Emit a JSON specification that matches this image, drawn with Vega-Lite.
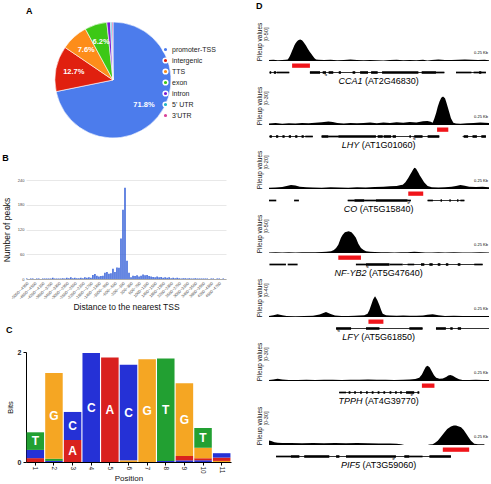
{
"$schema": "https://vega.github.io/schema/vega-lite/v6.json",
"padding": {"left": 2, "top": 2, "right": 0, "bottom": 0},
"background": "white",
"config": {
  "font": "Liberation Sans",
  "view": {"stroke": null},
  "axis": {"titleFontWeight": "normal", "labelColor": "#222", "titleColor": "#111"},
  "title": {"fontSize": 9, "fontWeight": "bold", "anchor": "start", "frame": "bounds", "color": "#000"}
},
"resolve": {"scale": {"color": "independent", "size": "independent"}, "legend": {"color": "independent", "size": "independent"}},
"datasets": {
  "pie": [
    {"c": "promoter-TSS", "v": 71.8, "i": 1, "l": "71.8%"},
    {"c": "intergenic", "v": 12.7, "i": 2, "l": "12.7%"},
    {"c": "TTS", "v": 7.6, "i": 3, "l": "7.6%"},
    {"c": "exon", "v": 6.2, "i": 4, "l": "6.2%"},
    {"c": "intron", "v": 1.0, "i": 5, "l": ""},
    {"c": "5' UTR", "v": 0.4, "i": 6, "l": ""},
    {"c": "3'UTR", "v": 0.3, "i": 7, "l": ""}
  ],
  "hist": [
    {"b": "-5000~-4900", "n": 1}, {"b": "-4900~-4800", "n": 0}, {"b": "-4800~-4700", "n": 1}, {"b": "-4700~-4600", "n": 1},
    {"b": "-4600~-4500", "n": 0}, {"b": "-4500~-4400", "n": 1}, {"b": "-4400~-4300", "n": 1}, {"b": "-4300~-4200", "n": 0},
    {"b": "-4200~-4100", "n": 1}, {"b": "-4100~-4000", "n": 1}, {"b": "-4000~-3900", "n": 1}, {"b": "-3900~-3800", "n": 1},
    {"b": "-3800~-3700", "n": 1}, {"b": "-3700~-3600", "n": 3}, {"b": "-3600~-3500", "n": 1}, {"b": "-3500~-3400", "n": 1},
    {"b": "-3400~-3300", "n": 1}, {"b": "-3300~-3200", "n": 1}, {"b": "-3200~-3100", "n": 2}, {"b": "-3100~-3000", "n": 1},
    {"b": "-3000~-2900", "n": 3}, {"b": "-2900~-2800", "n": 2}, {"b": "-2800~-2700", "n": 4}, {"b": "-2700~-2600", "n": 2},
    {"b": "-2600~-2500", "n": 3}, {"b": "-2500~-2400", "n": 2}, {"b": "-2400~-2300", "n": 2}, {"b": "-2300~-2200", "n": 3},
    {"b": "-2200~-2100", "n": 2}, {"b": "-2100~-2000", "n": 4}, {"b": "-2000~-1900", "n": 3}, {"b": "-1900~-1800", "n": 4},
    {"b": "-1800~-1700", "n": 3}, {"b": "-1700~-1600", "n": 10}, {"b": "-1600~-1500", "n": 12}, {"b": "-1500~-1400", "n": 8},
    {"b": "-1400~-1300", "n": 6}, {"b": "-1300~-1200", "n": 7}, {"b": "-1200~-1100", "n": 8}, {"b": "-1100~-1000", "n": 15},
    {"b": "-1000~-900", "n": 17}, {"b": "-900~-800", "n": 13}, {"b": "-800~-700", "n": 14}, {"b": "-700~-600", "n": 25},
    {"b": "-600~-500", "n": 17}, {"b": "-500~-400", "n": 28}, {"b": "-400~-300", "n": 27}, {"b": "-300~-200", "n": 98},
    {"b": "-200~-100", "n": 168}, {"b": "-100~0", "n": 221}, {"b": "0~100", "n": 44}, {"b": "100~200", "n": 15},
    {"b": "200~300", "n": 4}, {"b": "300~400", "n": 8}, {"b": "400~500", "n": 7}, {"b": "500~600", "n": 9},
    {"b": "600~700", "n": 6}, {"b": "700~800", "n": 8}, {"b": "800~900", "n": 11}, {"b": "900~1000", "n": 9},
    {"b": "1000~1100", "n": 10}, {"b": "1100~1200", "n": 7}, {"b": "1200~1300", "n": 6}, {"b": "1300~1400", "n": 5},
    {"b": "1400~1500", "n": 4}, {"b": "1500~1600", "n": 6}, {"b": "1600~1700", "n": 4}, {"b": "1700~1800", "n": 5},
    {"b": "1800~1900", "n": 3}, {"b": "1900~2000", "n": 4}, {"b": "2000~2100", "n": 3}, {"b": "2100~2200", "n": 4},
    {"b": "2200~2300", "n": 2}, {"b": "2300~2400", "n": 3}, {"b": "2400~2500", "n": 2}, {"b": "2500~2600", "n": 3},
    {"b": "2600~2700", "n": 2}, {"b": "2700~2800", "n": 1}, {"b": "2800~2900", "n": 2}, {"b": "2900~3000", "n": 2},
    {"b": "3000~3100", "n": 1}, {"b": "3100~3200", "n": 2}, {"b": "3200~3300", "n": 1}, {"b": "3300~3400", "n": 1},
    {"b": "3400~3500", "n": 2}, {"b": "3500~3600", "n": 1}, {"b": "3600~3700", "n": 1}, {"b": "3700~3800", "n": 1},
    {"b": "3800~3900", "n": 1}, {"b": "3900~4000", "n": 1}, {"b": "4000~4100", "n": 1}, {"b": "4100~4200", "n": 0},
    {"b": "4200~4300", "n": 1}, {"b": "4300~4400", "n": 1}, {"b": "4400~4500", "n": 0}, {"b": "4500~4600", "n": 1},
    {"b": "4600~4700", "n": 1}, {"b": "4700~4800", "n": 0}, {"b": "4800~4900", "n": 1}, {"b": "4900~5000", "n": 0}
  ],
  "logo": [
    {"p": 1, "n": "A", "b": 0.07}, {"p": 1, "n": "C", "b": 0.15}, {"p": 1, "n": "T", "b": 0.32},
    {"p": 2, "n": "C", "b": 0.02}, {"p": 2, "n": "T", "b": 0.04}, {"p": 2, "n": "G", "b": 1.56},
    {"p": 3, "n": "A", "b": 0.4}, {"p": 3, "n": "C", "b": 0.51},
    {"p": 4, "n": "C", "b": 1.98},
    {"p": 5, "n": "A", "b": 1.9},
    {"p": 6, "n": "G", "b": 0.03}, {"p": 6, "n": "C", "b": 1.74},
    {"p": 7, "n": "G", "b": 1.87},
    {"p": 8, "n": "C", "b": 0.02}, {"p": 8, "n": "T", "b": 1.86},
    {"p": 9, "n": "C", "b": 0.03}, {"p": 9, "n": "A", "b": 0.08}, {"p": 9, "n": "G", "b": 1.32},
    {"p": 10, "n": "C", "b": 0.03}, {"p": 10, "n": "A", "b": 0.04}, {"p": 10, "n": "G", "b": 0.19}, {"p": 10, "n": "T", "b": 0.36},
    {"p": 11, "n": "G", "b": 0.02}, {"p": 11, "n": "A", "b": 0.06}, {"p": 11, "n": "C", "b": 0.08}
  ],
  "cov": [
    {"t":"CCA1","x":0,"v":1.2},{"t":"CCA1","x":2,"v":1.5},{"t":"CCA1","x":4,"v":1.0},{"t":"CCA1","x":6,"v":1.4},{"t":"CCA1","x":7.5,"v":1.6},
    {"t":"CCA1","x":8.5,"v":2},{"t":"CCA1","x":9,"v":4},{"t":"CCA1","x":9.5,"v":6.5},{"t":"CCA1","x":10,"v":9.7},{"t":"CCA1","x":10.5,"v":13},
    {"t":"CCA1","x":11,"v":16.5},{"t":"CCA1","x":11.5,"v":20},{"t":"CCA1","x":12,"v":22.5},{"t":"CCA1","x":12.5,"v":24.5},{"t":"CCA1","x":13,"v":26},
    {"t":"CCA1","x":13.5,"v":27},{"t":"CCA1","x":14.2,"v":27.5},{"t":"CCA1","x":15,"v":26.5},{"t":"CCA1","x":15.5,"v":25},{"t":"CCA1","x":16,"v":23},
    {"t":"CCA1","x":16.8,"v":20},{"t":"CCA1","x":17.5,"v":16.5},{"t":"CCA1","x":18,"v":14},{"t":"CCA1","x":18.5,"v":12},{"t":"CCA1","x":19.1,"v":9.7},
    {"t":"CCA1","x":20,"v":6},{"t":"CCA1","x":20.7,"v":3.5},{"t":"CCA1","x":21.4,"v":2},{"t":"CCA1","x":22.5,"v":1.5},{"t":"CCA1","x":25,"v":1.2},
    {"t":"CCA1","x":28,"v":1.5},{"t":"CCA1","x":31,"v":1},{"t":"CCA1","x":34,"v":1.3},{"t":"CCA1","x":37,"v":1.8},{"t":"CCA1","x":40,"v":1.2},
    {"t":"CCA1","x":43,"v":1},{"t":"CCA1","x":46,"v":1.4},{"t":"CCA1","x":49,"v":1.1},{"t":"CCA1","x":52,"v":0.8},{"t":"CCA1","x":55,"v":1.2},
    {"t":"CCA1","x":58,"v":1.6},{"t":"CCA1","x":61,"v":1},{"t":"CCA1","x":64,"v":1.3},{"t":"CCA1","x":67,"v":0.9},{"t":"CCA1","x":70,"v":1.5},
    {"t":"CCA1","x":72,"v":0.6},{"t":"CCA1","x":74,"v":1.4},{"t":"CCA1","x":77,"v":1.8},{"t":"CCA1","x":80,"v":1.2},{"t":"CCA1","x":83,"v":1.4},
    {"t":"CCA1","x":86,"v":1.7},{"t":"CCA1","x":89,"v":2},{"t":"CCA1","x":92,"v":1.5},{"t":"CCA1","x":95,"v":1.2},{"t":"CCA1","x":98,"v":1.6},{"t":"CCA1","x":100,"v":1},

    {"t":"LHY","x":0,"v":1.2},{"t":"LHY","x":3,"v":1.5},{"t":"LHY","x":6,"v":1},{"t":"LHY","x":9,"v":1.4},{"t":"LHY","x":12,"v":1.2},
    {"t":"LHY","x":15,"v":1.5},{"t":"LHY","x":18,"v":1.3},{"t":"LHY","x":21,"v":1.8},{"t":"LHY","x":24,"v":2.2},{"t":"LHY","x":27,"v":2.6},
    {"t":"LHY","x":29,"v":2.4},{"t":"LHY","x":31,"v":1.6},{"t":"LHY","x":34,"v":1.2},{"t":"LHY","x":37,"v":1.5},{"t":"LHY","x":40,"v":1.3},
    {"t":"LHY","x":43,"v":1.6},{"t":"LHY","x":46,"v":1.9},{"t":"LHY","x":49,"v":1.4},{"t":"LHY","x":52,"v":2},{"t":"LHY","x":55,"v":1.6},
    {"t":"LHY","x":58,"v":2.2},{"t":"LHY","x":61,"v":1.8},{"t":"LHY","x":64,"v":2.4},{"t":"LHY","x":67,"v":2},{"t":"LHY","x":70,"v":2.8},
    {"t":"LHY","x":72,"v":3},{"t":"LHY","x":73.5,"v":2.5},{"t":"LHY","x":74.4,"v":1.7},{"t":"LHY","x":75.2,"v":5.2},{"t":"LHY","x":76,"v":9.5},
    {"t":"LHY","x":76.7,"v":14},{"t":"LHY","x":77.5,"v":18},{"t":"LHY","x":78.3,"v":21},{"t":"LHY","x":79.1,"v":22},{"t":"LHY","x":80,"v":20.5},
    {"t":"LHY","x":80.6,"v":17.5},{"t":"LHY","x":81.2,"v":14},{"t":"LHY","x":82,"v":9.5},{"t":"LHY","x":82.7,"v":5.2},{"t":"LHY","x":83.8,"v":1.7},
    {"t":"LHY","x":85,"v":1.2},{"t":"LHY","x":87,"v":1},{"t":"LHY","x":90,"v":1.3},{"t":"LHY","x":93,"v":1.6},{"t":"LHY","x":96,"v":2},
    {"t":"LHY","x":98,"v":1.8},{"t":"LHY","x":100,"v":1.5},

    {"t":"CO","x":0,"v":0.6},{"t":"CO","x":3,"v":0.8},{"t":"CO","x":6,"v":1},{"t":"CO","x":8,"v":1.6},{"t":"CO","x":10,"v":2},
    {"t":"CO","x":12,"v":1.8},{"t":"CO","x":14,"v":1.2},{"t":"CO","x":17,"v":0.9},{"t":"CO","x":20,"v":0.8},{"t":"CO","x":24,"v":0.7},
    {"t":"CO","x":28,"v":0.9},{"t":"CO","x":32,"v":0.8},{"t":"CO","x":36,"v":0.7},{"t":"CO","x":40,"v":0.9},{"t":"CO","x":44,"v":0.8},
    {"t":"CO","x":48,"v":1},{"t":"CO","x":52,"v":1.2},{"t":"CO","x":55,"v":1.4},{"t":"CO","x":58,"v":1.6},{"t":"CO","x":60,"v":2},
    {"t":"CO","x":60.8,"v":2.2},{"t":"CO","x":62,"v":3.5},{"t":"CO","x":63.3,"v":5.6},{"t":"CO","x":64,"v":7},{"t":"CO","x":64.8,"v":8.6},
    {"t":"CO","x":65.5,"v":10},{"t":"CO","x":66.1,"v":10.9},{"t":"CO","x":66.8,"v":10.5},{"t":"CO","x":67.8,"v":8.6},{"t":"CO","x":68.5,"v":7},
    {"t":"CO","x":69.3,"v":5.6},{"t":"CO","x":70.5,"v":3.5},{"t":"CO","x":72.1,"v":1.5},{"t":"CO","x":74,"v":0.9},{"t":"CO","x":77,"v":0.8},
    {"t":"CO","x":80,"v":0.9},{"t":"CO","x":83,"v":1.2},{"t":"CO","x":85,"v":1.6},{"t":"CO","x":87,"v":2},{"t":"CO","x":89,"v":1.7},
    {"t":"CO","x":91,"v":1.2},{"t":"CO","x":94,"v":1},{"t":"CO","x":97,"v":1.2},{"t":"CO","x":100,"v":0.9},

    {"t":"NF-YB2","x":0,"v":0.8},{"t":"NF-YB2","x":3,"v":0.9},{"t":"NF-YB2","x":6,"v":0.7},{"t":"NF-YB2","x":9,"v":0.9},{"t":"NF-YB2","x":12,"v":0.8},
    {"t":"NF-YB2","x":15,"v":1},{"t":"NF-YB2","x":18,"v":0.9},{"t":"NF-YB2","x":21,"v":1.1},{"t":"NF-YB2","x":24,"v":1.3},{"t":"NF-YB2","x":26,"v":1.5},
    {"t":"NF-YB2","x":28.2,"v":2.2},{"t":"NF-YB2","x":29.5,"v":4},{"t":"NF-YB2","x":30.5,"v":6.5},{"t":"NF-YB2","x":31.5,"v":10.5},{"t":"NF-YB2","x":32.7,"v":19.6},
    {"t":"NF-YB2","x":33.5,"v":23.5},{"t":"NF-YB2","x":34.5,"v":26.5},{"t":"NF-YB2","x":36.2,"v":28},{"t":"NF-YB2","x":37.5,"v":26.5},{"t":"NF-YB2","x":38.5,"v":23.5},
    {"t":"NF-YB2","x":39.5,"v":19.6},{"t":"NF-YB2","x":40.6,"v":12},{"t":"NF-YB2","x":41.8,"v":6.5},{"t":"NF-YB2","x":43,"v":3.8},{"t":"NF-YB2","x":44.1,"v":2.2},
    {"t":"NF-YB2","x":46,"v":1.5},{"t":"NF-YB2","x":48,"v":1.2},{"t":"NF-YB2","x":51,"v":0.9},{"t":"NF-YB2","x":54,"v":1},{"t":"NF-YB2","x":57,"v":0.8},
    {"t":"NF-YB2","x":60,"v":0.9},{"t":"NF-YB2","x":63,"v":1.1},{"t":"NF-YB2","x":66,"v":1.5},{"t":"NF-YB2","x":68,"v":1.2},{"t":"NF-YB2","x":71,"v":0.8},
    {"t":"NF-YB2","x":74,"v":0.7},{"t":"NF-YB2","x":77,"v":0.9},{"t":"NF-YB2","x":80,"v":0.8},{"t":"NF-YB2","x":84,"v":0.9},{"t":"NF-YB2","x":88,"v":0.7},
    {"t":"NF-YB2","x":92,"v":0.8},{"t":"NF-YB2","x":96,"v":0.9},{"t":"NF-YB2","x":100,"v":0.7},

    {"t":"LFY","x":0,"v":1},{"t":"LFY","x":2,"v":1.8},{"t":"LFY","x":3.9,"v":2.8},{"t":"LFY","x":6,"v":1.8},{"t":"LFY","x":8,"v":1},
    {"t":"LFY","x":12,"v":0.8},{"t":"LFY","x":16,"v":1},{"t":"LFY","x":20,"v":1.2},{"t":"LFY","x":23,"v":2.5},{"t":"LFY","x":25.9,"v":5.2},
    {"t":"LFY","x":28,"v":3},{"t":"LFY","x":30,"v":1.5},{"t":"LFY","x":33,"v":1},{"t":"LFY","x":36,"v":1.1},{"t":"LFY","x":39,"v":1.3},
    {"t":"LFY","x":41,"v":1.5},{"t":"LFY","x":43.3,"v":1.7},{"t":"LFY","x":44.8,"v":3.4},{"t":"LFY","x":45.6,"v":7},{"t":"LFY","x":46.4,"v":12},
    {"t":"LFY","x":47.3,"v":18},{"t":"LFY","x":48.2,"v":21.4},{"t":"LFY","x":49.2,"v":17.5},{"t":"LFY","x":50.2,"v":12},{"t":"LFY","x":51,"v":7},
    {"t":"LFY","x":51.7,"v":3.4},{"t":"LFY","x":53.2,"v":1.7},{"t":"LFY","x":55,"v":1.5},{"t":"LFY","x":58,"v":1.2},{"t":"LFY","x":61,"v":1.6},
    {"t":"LFY","x":64,"v":1.3},{"t":"LFY","x":67,"v":1.2},{"t":"LFY","x":70,"v":1.5},{"t":"LFY","x":72,"v":2.2},{"t":"LFY","x":74.4,"v":2.8},
    {"t":"LFY","x":77,"v":1.8},{"t":"LFY","x":80,"v":1},{"t":"LFY","x":84,"v":1.2},{"t":"LFY","x":88,"v":0.9},{"t":"LFY","x":92,"v":1},
    {"t":"LFY","x":96,"v":1.1},{"t":"LFY","x":100,"v":0.9},

    {"t":"TPPH","x":0,"v":0.8},{"t":"TPPH","x":2,"v":1.2},{"t":"TPPH","x":3.9,"v":1.8},{"t":"TPPH","x":6,"v":1.2},{"t":"TPPH","x":9,"v":0.8},
    {"t":"TPPH","x":13,"v":0.7},{"t":"TPPH","x":17,"v":0.9},{"t":"TPPH","x":21,"v":0.8},{"t":"TPPH","x":25,"v":1},{"t":"TPPH","x":29,"v":0.9},
    {"t":"TPPH","x":33,"v":0.8},{"t":"TPPH","x":37,"v":1},{"t":"TPPH","x":41,"v":0.9},{"t":"TPPH","x":45,"v":1.1},{"t":"TPPH","x":49,"v":0.9},
    {"t":"TPPH","x":53,"v":1},{"t":"TPPH","x":57,"v":0.8},{"t":"TPPH","x":61,"v":1},{"t":"TPPH","x":64,"v":1.2},{"t":"TPPH","x":66.5,"v":1.6},
    {"t":"TPPH","x":68.3,"v":2.5},{"t":"TPPH","x":69.5,"v":5},{"t":"TPPH","x":70.5,"v":8.5},{"t":"TPPH","x":71.3,"v":11},{"t":"TPPH","x":72.1,"v":11.8},
    {"t":"TPPH","x":73,"v":10.5},{"t":"TPPH","x":74,"v":7.5},{"t":"TPPH","x":75,"v":4.5},{"t":"TPPH","x":76,"v":2.5},{"t":"TPPH","x":77.5,"v":1.8},
    {"t":"TPPH","x":79,"v":2},{"t":"TPPH","x":80.5,"v":3},{"t":"TPPH","x":81.5,"v":4.2},{"t":"TPPH","x":82.4,"v":4.6},{"t":"TPPH","x":83.5,"v":4},
    {"t":"TPPH","x":85,"v":2.5},{"t":"TPPH","x":86.4,"v":1.3},{"t":"TPPH","x":88,"v":0.8},{"t":"TPPH","x":91,"v":0.7},{"t":"TPPH","x":94,"v":0.9},
    {"t":"TPPH","x":97,"v":0.8},{"t":"TPPH","x":100,"v":0.8},

    {"t":"PIF5","x":0,"v":3.4},{"t":"PIF5","x":1,"v":3},{"t":"PIF5","x":2.5,"v":2.2},{"t":"PIF5","x":4,"v":1.8},{"t":"PIF5","x":6,"v":1.6},
    {"t":"PIF5","x":10,"v":1.5},{"t":"PIF5","x":15,"v":1.4},{"t":"PIF5","x":20,"v":1.6},{"t":"PIF5","x":25,"v":1.4},{"t":"PIF5","x":30,"v":1.5},
    {"t":"PIF5","x":35,"v":1.3},{"t":"PIF5","x":40,"v":1.5},{"t":"PIF5","x":45,"v":1.4},{"t":"PIF5","x":50,"v":1.2},{"t":"PIF5","x":55,"v":1.1},
    {"t":"PIF5","x":58,"v":0.9},{"t":"PIF5","x":60,"v":0.6},{"t":"PIF5","x":61.5,"v":0},{"t":"PIF5","x":72.1,"v":0},{"t":"PIF5","x":73,"v":0.3},
    {"t":"PIF5","x":74.4,"v":0.6},{"t":"PIF5","x":75.5,"v":1.8},{"t":"PIF5","x":76.7,"v":3.2},{"t":"PIF5","x":78,"v":6},{"t":"PIF5","x":79.7,"v":9.7},
    {"t":"PIF5","x":81,"v":12.3},{"t":"PIF5","x":82.7,"v":14.2},{"t":"PIF5","x":84,"v":15},{"t":"PIF5","x":85,"v":15},{"t":"PIF5","x":86,"v":14.5},
    {"t":"PIF5","x":87.3,"v":13.7},{"t":"PIF5","x":88.5,"v":11.5},{"t":"PIF5","x":89.5,"v":9},{"t":"PIF5","x":90.7,"v":6},{"t":"PIF5","x":91.8,"v":3.2},
    {"t":"PIF5","x":93.3,"v":1},{"t":"PIF5","x":95,"v":0.6},{"t":"PIF5","x":97.9,"v":0.5}
  ],
  "feat": [
    {"t":"CCA1","k":"intron","s":0.2,"e":9.2},{"t":"CCA1","k":"intron","s":18.6,"e":79.7},{"t":"CCA1","k":"intron","s":85,"e":98.6},
    {"t":"CCA1","k":"utr","s":3.5,"e":9.2},{"t":"CCA1","k":"exon","s":0.3,"e":1.0},{"t":"CCA1","k":"exon","s":2.2,"e":3.2},
    {"t":"CCA1","k":"exon","s":18.6,"e":23.2},{"t":"CCA1","k":"exon","s":24.4,"e":25.9},{"t":"CCA1","k":"exon","s":27.1,"e":29.2},
    {"t":"CCA1","k":"exon","s":31.7,"e":32.7},{"t":"CCA1","k":"exon","s":38,"e":39.2},{"t":"CCA1","k":"exon","s":41.4,"e":45},
    {"t":"CCA1","k":"exon","s":46.4,"e":49.4},{"t":"CCA1","k":"exon","s":51.4,"e":67.9},{"t":"CCA1","k":"exon","s":69.4,"e":75.9},
    {"t":"CCA1","k":"utr","s":75.9,"e":79.7},{"t":"CCA1","k":"utr","s":85,"e":92},{"t":"CCA1","k":"utr","s":93,"e":98.6},
    {"t":"CCA1","k":"exon","s":95.5,"e":96.5},{"t":"CCA1","k":"peak","s":10.5,"e":18.6},

    {"t":"LHY","k":"intron","s":0.1,"e":19.9},{"t":"LHY","k":"intron","s":23.9,"e":77.4},{"t":"LHY","k":"intron","s":88,"e":98.6},
    {"t":"LHY","k":"exon","s":0.3,"e":1.3},{"t":"LHY","k":"exon","s":3.2,"e":4.2},{"t":"LHY","k":"exon","s":6.1,"e":7.1},
    {"t":"LHY","k":"exon","s":9,"e":10},{"t":"LHY","k":"exon","s":11.9,"e":12.9},{"t":"LHY","k":"exon","s":14.8,"e":15.8},
    {"t":"LHY","k":"utr","s":16.5,"e":19.9},{"t":"LHY","k":"exon","s":23.9,"e":27},{"t":"LHY","k":"utr","s":27,"e":31.5},
    {"t":"LHY","k":"exon","s":31.5,"e":48.6},{"t":"LHY","k":"exon","s":49.4,"e":51.7},{"t":"LHY","k":"exon","s":52.1,"e":55.5},
    {"t":"LHY","k":"exon","s":56.2,"e":57.7},{"t":"LHY","k":"exon","s":63.8,"e":64.5},{"t":"LHY","k":"exon","s":66,"e":69.8},
    {"t":"LHY","k":"exon","s":72.1,"e":77.4},{"t":"LHY","k":"exon","s":88.5,"e":90.5},{"t":"LHY","k":"exon","s":92.5,"e":94.5},
    {"t":"LHY","k":"exon","s":96.5,"e":98.6},{"t":"LHY","k":"peak","s":76.4,"e":81.5},

    {"t":"CO","k":"utr","s":0,"e":3.3},{"t":"CO","k":"utr","s":11.4,"e":13.6},{"t":"CO","k":"intron","s":35.8,"e":64.5},
    {"t":"CO","k":"utr","s":35.8,"e":38.8},{"t":"CO","k":"exon","s":38.8,"e":43.3},{"t":"CO","k":"utr","s":43.3,"e":48.6},
    {"t":"CO","k":"exon","s":48.6,"e":63},{"t":"CO","k":"utr","s":63,"e":64.5},{"t":"CO","k":"intron","s":72.1,"e":88.8},
    {"t":"CO","k":"utr","s":72.1,"e":74.5},{"t":"CO","k":"exon","s":78,"e":78.6},{"t":"CO","k":"exon","s":82,"e":82.6},
    {"t":"CO","k":"exon","s":85.5,"e":86.1},{"t":"CO","k":"utr","s":87,"e":88.8},{"t":"CO","k":"peak","s":63.3,"e":70.1},

    {"t":"NF-YB2","k":"utr","s":0.2,"e":7.7},{"t":"NF-YB2","k":"utr","s":8.5,"e":13},{"t":"NF-YB2","k":"intron","s":60.8,"e":97.1},
    {"t":"NF-YB2","k":"utr","s":39.5,"e":44.1},{"t":"NF-YB2","k":"exon","s":44.1,"e":54.7},{"t":"NF-YB2","k":"utr","s":54.7,"e":60.8},
    {"t":"NF-YB2","k":"utr","s":63,"e":66},{"t":"NF-YB2","k":"exon","s":69.1,"e":70.6},{"t":"NF-YB2","k":"exon","s":72.9,"e":74.4},
    {"t":"NF-YB2","k":"exon","s":76.7,"e":77.9},{"t":"NF-YB2","k":"exon","s":80.4,"e":81.5},{"t":"NF-YB2","k":"exon","s":85.8,"e":87},
    {"t":"NF-YB2","k":"utr","s":93.3,"e":97.1},{"t":"NF-YB2","k":"peak","s":31.5,"e":41.8},

    {"t":"LFY","k":"intron","s":30.5,"e":69.8},{"t":"LFY","k":"exon","s":30.5,"e":37.3},{"t":"LFY","k":"exon","s":44.1,"e":50.2},
    {"t":"LFY","k":"exon","s":63.8,"e":69.8},{"t":"LFY","k":"intron","s":75.9,"e":100},{"t":"LFY","k":"exon","s":75.9,"e":80.4},
    {"t":"LFY","k":"exon","s":82.4,"e":83.5},{"t":"LFY","k":"exon","s":85.8,"e":87.3},{"t":"LFY","k":"peak","s":45.2,"e":52},

    {"t":"TPPH","k":"intron","s":31.9,"e":68.3},{"t":"TPPH","k":"utr","s":31.9,"e":35},{"t":"TPPH","k":"exon","s":36.2,"e":37},
    {"t":"TPPH","k":"exon","s":38.7,"e":39.5},{"t":"TPPH","k":"exon","s":41.4,"e":42.2},{"t":"TPPH","k":"exon","s":44.1,"e":44.9},
    {"t":"TPPH","k":"exon","s":46.7,"e":47.5},{"t":"TPPH","k":"exon","s":49.4,"e":50.2},{"t":"TPPH","k":"exon","s":52,"e":52.8},
    {"t":"TPPH","k":"exon","s":54.8,"e":55.6},{"t":"TPPH","k":"exon","s":57.3,"e":58.1},{"t":"TPPH","k":"exon","s":59.6,"e":60.4},
    {"t":"TPPH","k":"exon","s":62.3,"e":66},{"t":"TPPH","k":"exon","s":67.5,"e":68.3},{"t":"TPPH","k":"peak","s":69.5,"e":75.2},

    {"t":"PIF5","k":"intron","s":3.2,"e":82.7},{"t":"PIF5","k":"utr","s":3.2,"e":10},{"t":"PIF5","k":"exon","s":10,"e":13.8},
    {"t":"PIF5","k":"exon","s":16,"e":27.4},{"t":"PIF5","k":"exon","s":30.5,"e":32},{"t":"PIF5","k":"exon","s":35,"e":57.7},
    {"t":"PIF5","k":"exon","s":61.5,"e":63.8},{"t":"PIF5","k":"utr","s":63.8,"e":69.8},{"t":"PIF5","k":"exon","s":72.9,"e":82.7},
    {"t":"PIF5","k":"peak","s":79,"e":91}
  ],
  "tss": [
    {"t":"CCA1","p":25.2,"d":"+"},{"t":"LHY","p":65.5,"d":"+"},{"t":"CO","p":64,"d":"-"},{"t":"NF-YB2","p":44.1,"d":"+"},
    {"t":"LFY","p":31,"d":"+"},{"t":"TPPH","p":65.5,"d":"-"},{"t":"PIF5","p":57.2,"d":"-"}
  ],
  "genes": [
    {"t":"CCA1","g":"CCA1","id":"(AT2G46830)"},{"t":"LHY","g":"LHY","id":"(AT1G01060)"},{"t":"CO","g":"CO","id":"(AT5G15840)"},
    {"t":"NF-YB2","g":"NF-YB2","id":"(AT5G47640)"},{"t":"LFY","g":"LFY","id":"(AT5G61850)"},{"t":"TPPH","g":"TPPH","id":"(AT4G39770)"},
    {"t":"PIF5","g":"PIF5","id":"(AT3G59060)"}
  ]
},
"hconcat": [
  {
    "resolve": {"scale": {"color": "independent"}, "legend": {"color": "independent"}},
    "concat": [
      {
        "title": {"text": "A", "offset": 5},
        "width": 174, "height": 116,
        "data": {"name": "pie"},
        "encoding": {
          "theta": {"field": "v", "type": "quantitative", "stack": true},
          "order": {"field": "i", "type": "quantitative"},
          "color": {"field": "c", "type": "nominal",
            "scale": {"domain": ["promoter-TSS", "intergenic", "TTS", "exon", "intron", "5' UTR", "3'UTR"],
                      "range": ["#4c7cec", "#e0200f", "#fd8d1a", "#3cc816", "#7a1fd6", "#22b4c8", "#d9439a"]},
            "legend": {"title": null, "orient": "none", "legendX": 136, "legendY": 24, "padding": 0, "labelFontSize": 7, "symbolType": "circle", "symbolSize": 22, "rowPadding": 0, "labelOffset": 3, "labelColor": "#222"}}
        },
        "layer": [
          {"mark": {"type": "arc", "outerRadius": 58, "stroke": "white", "strokeWidth": 0.6}},
          {"mark": {"type": "text", "radius": 40, "fill": "white", "fontWeight": "bold", "fontSize": 7.5}, "encoding": {"text": {"field": "l"}}}
        ]
      },
      {
        "title": {"text": "B", "offset": 15},
        "width": 200, "height": 99,
        "data": {"name": "hist"},
        "mark": {"type": "bar", "color": "#3560d8"},
        "encoding": {
          "x": {"field": "b", "type": "nominal", "sort": null, "scale": {"paddingInner": 0.25, "paddingOuter": 0},
            "axis": {"values": ["-5000~-4900","-4600~-4500","-4200~-4100","-3800~-3700","-3400~-3300","-3000~-2900","-2600~-2500","-2200~-2100","-1800~-1700","-1400~-1300","-1000~-900","-600~-500","-200~-100","200~300","600~700","1000~1100","1400~1500","1800~1900","2200~2300","2600~2700","3000~3100","3400~3500","3800~3900","4200~4300","4600~4700"],
              "labelAngle": -45, "labelFontSize": 4, "labelColor": "#444", "ticks": false, "domainColor": "#aaa", "labelPadding": 2,
              "title": "Distance to the nearest TSS", "titleFontSize": 8.5, "titlePadding": 3}},
          "y": {"field": "n", "type": "quantitative", "scale": {"domain": [0, 240]},
            "axis": {"values": [0, 60, 120, 180, 240], "labelFontSize": 4, "labelColor": "#444", "domain": false, "ticks": false, "gridColor": "#e8e8e8",
              "title": "Number of peaks", "titleFontSize": 8.5, "titlePadding": 6}}
        }
      },
      {
        "title": {"text": "C", "offset": 13},
        "width": 205, "height": 110,
        "data": {"name": "logo"},
        "transform": [
          {"stack": "b", "groupby": ["p"], "sort": [{"field": "b", "order": "ascending"}], "as": ["b0", "b1"]},
          {"calculate": "(datum.b0 + datum.b1) / 2", "as": "bm"}
        ],
        "encoding": {
          "x": {"field": "p", "type": "ordinal", "scale": {"paddingInner": 0.06, "paddingOuter": 0.03},
            "axis": {"title": "Position", "labelAngle": 90, "labelFontSize": 6.5, "titleFontSize": 8, "domainColor": "#000", "tickColor": "#000", "tickSize": 3, "labelAlign": "left", "labelBaseline": "middle", "labelPadding": 1, "titlePadding": 1}}
        },
        "layer": [
          {"mark": {"type": "bar"},
           "encoding": {
             "y": {"field": "b0", "type": "quantitative", "scale": {"domain": [0, 2]},
               "axis": {"title": "Bits", "values": [0, 1, 2], "format": "d", "labelFontSize": 7, "labelFontWeight": "bold", "titleFontSize": 7.5, "domainColor": "#000", "tickColor": "#000", "tickSize": 3, "grid": false, "titlePadding": 3}},
             "y2": {"field": "b1"},
             "color": {"field": "n", "type": "nominal", "scale": {"domain": ["A", "C", "G", "T"], "range": ["#d9211e", "#2531d6", "#f5a623", "#22a032"]}, "legend": null}
           }},
          {"transform": [{"filter": "datum.b >= 0.3"}],
           "mark": {"type": "text", "color": "white", "fontWeight": "bold", "fontSize": 12},
           "encoding": {"y": {"field": "bm", "type": "quantitative"}, "text": {"field": "n"}}}
        ]
      }
    ],
    "columns": 1,
    "align": "none",
    "spacing": 14
  },
  {
    "title": {"text": "D", "offset": 11},
    "spacing": 0,
    "vconcat": [
      {"spacing": 0, "vconcat": [
        {"width": 220, "height": 39, "layer": [
          {"data": {"name": "cov"}, "transform": [{"filter": "datum.t === 'CCA1'"}], "mark": {"type": "area", "color": "#000"},
           "encoding": {"x": {"field": "x", "type": "quantitative", "scale": {"domain": [0, 100]}, "axis": null},
             "y": {"field": "v", "type": "quantitative", "scale": {"domain": [0, 50]},
               "axis": {"values": [50], "labelExpr": "'[0-' + datum.label + ']'", "labelAngle": -90, "labelAlign": "right", "labelBaseline": "bottom", "labelOffset": 5, "labelFontSize": 5.5, "labelPadding": 1, "ticks": false, "domain": false, "grid": false, "title": "Pileup values", "titleFontSize": 6.5, "titlePadding": 1}}}},
          {"data": {"values": [{"s": "0.25 Kb"}]}, "mark": {"type": "text", "fontSize": 4, "align": "right", "baseline": "bottom"},
           "encoding": {"x": {"datum": 99.5}, "y": {"datum": 8}, "text": {"field": "s"}}}
        ]},
        {"width": 220, "height": 23, "layer": [
          {"data": {"name": "feat"}, "transform": [{"filter": "datum.t === 'CCA1' && datum.k !== 'peak'"}], "mark": {"type": "rule", "color": "#000"},
           "encoding": {"x": {"field": "s", "type": "quantitative", "scale": {"domain": [0, 100]}, "axis": null}, "x2": {"field": "e"},
             "y": {"datum": "gene", "type": "nominal", "scale": {"type": "point", "domain": ["peak", "gene", "label"], "padding": 0.68}, "axis": null},
             "size": {"field": "k", "type": "ordinal", "scale": {"domain": ["intron", "utr", "exon"], "range": [0.8, 2.6, 4.8]}, "legend": null}}},
          {"data": {"name": "feat"}, "transform": [{"filter": "datum.t === 'CCA1' && datum.k === 'peak'"}], "mark": {"type": "rule", "color": "#f0141a", "strokeWidth": 4.3},
           "encoding": {"x": {"field": "s", "type": "quantitative"}, "x2": {"field": "e"}, "y": {"datum": "peak", "type": "nominal"}}},
          {"data": {"name": "tss"}, "transform": [{"filter": "datum.t === 'CCA1'"}], "mark": {"type": "text", "text": "↳", "font": "DejaVu Sans", "fontSize": 5, "align": "left", "baseline": "top", "dx": -0.8, "dy": -1},
           "encoding": {"x": {"field": "p", "type": "quantitative"}, "y": {"datum": "gene", "type": "nominal"}}},
          {"data": {"name": "genes"}, "transform": [{"filter": "datum.t === 'CCA1'"}], "mark": {"type": "text", "fontSize": 9, "fontStyle": "italic", "align": "right", "baseline": "middle", "dx": -16.5, "dy": 1.5},
           "encoding": {"x": {"datum": 50}, "y": {"datum": "label", "type": "nominal"}, "text": {"field": "g"}}},
          {"data": {"name": "genes"}, "transform": [{"filter": "datum.t === 'CCA1'"}], "mark": {"type": "text", "fontSize": 9, "align": "left", "baseline": "middle", "dx": -14, "dy": 1.5},
           "encoding": {"x": {"datum": 50}, "y": {"datum": "label", "type": "nominal"}, "text": {"field": "id"}}}
        ]}
      ]},
      {"spacing": 0, "vconcat": [
        {"width": 220, "height": 39, "layer": [
          {"data": {"name": "cov"}, "transform": [{"filter": "datum.t === 'LHY'"}], "mark": {"type": "area", "color": "#000"},
           "encoding": {"x": {"field": "x", "type": "quantitative", "scale": {"domain": [0, 100]}, "axis": null},
             "y": {"field": "v", "type": "quantitative", "scale": {"domain": [0, 30]},
               "axis": {"values": [30], "labelExpr": "'[0-' + datum.label + ']'", "labelAngle": -90, "labelAlign": "right", "labelBaseline": "bottom", "labelOffset": 5, "labelFontSize": 5.5, "labelPadding": 1, "ticks": false, "domain": false, "grid": false, "title": "Pileup values", "titleFontSize": 6.5, "titlePadding": 1}}}},
          {"data": {"values": [{"s": "0.25 Kb"}]}, "mark": {"type": "text", "fontSize": 4, "align": "right", "baseline": "bottom"},
           "encoding": {"x": {"datum": 99.5}, "y": {"datum": 4.8}, "text": {"field": "s"}}}
        ]},
        {"width": 220, "height": 23, "layer": [
          {"data": {"name": "feat"}, "transform": [{"filter": "datum.t === 'LHY' && datum.k !== 'peak'"}], "mark": {"type": "rule", "color": "#000"},
           "encoding": {"x": {"field": "s", "type": "quantitative", "scale": {"domain": [0, 100]}, "axis": null}, "x2": {"field": "e"},
             "y": {"datum": "gene", "type": "nominal", "scale": {"type": "point", "domain": ["peak", "gene", "label"], "padding": 0.68}, "axis": null},
             "size": {"field": "k", "type": "ordinal", "scale": {"domain": ["intron", "utr", "exon"], "range": [0.8, 2.6, 4.8]}, "legend": null}}},
          {"data": {"name": "feat"}, "transform": [{"filter": "datum.t === 'LHY' && datum.k === 'peak'"}], "mark": {"type": "rule", "color": "#f0141a", "strokeWidth": 4.3},
           "encoding": {"x": {"field": "s", "type": "quantitative"}, "x2": {"field": "e"}, "y": {"datum": "peak", "type": "nominal"}}},
          {"data": {"name": "tss"}, "transform": [{"filter": "datum.t === 'LHY'"}], "mark": {"type": "text", "text": "↳", "font": "DejaVu Sans", "fontSize": 5, "align": "left", "baseline": "top", "dx": -0.8, "dy": -1},
           "encoding": {"x": {"field": "p", "type": "quantitative"}, "y": {"datum": "gene", "type": "nominal"}}},
          {"data": {"name": "genes"}, "transform": [{"filter": "datum.t === 'LHY'"}], "mark": {"type": "text", "fontSize": 9, "fontStyle": "italic", "align": "right", "baseline": "middle", "dx": -19.75, "dy": 1.5},
           "encoding": {"x": {"datum": 50}, "y": {"datum": "label", "type": "nominal"}, "text": {"field": "g"}}},
          {"data": {"name": "genes"}, "transform": [{"filter": "datum.t === 'LHY'"}], "mark": {"type": "text", "fontSize": 9, "align": "left", "baseline": "middle", "dx": -17.25, "dy": 1.5},
           "encoding": {"x": {"datum": 50}, "y": {"datum": "label", "type": "nominal"}, "text": {"field": "id"}}}
        ]}
      ]},
      {"spacing": 0, "vconcat": [
        {"width": 220, "height": 39, "layer": [
          {"data": {"name": "cov"}, "transform": [{"filter": "datum.t === 'CO'"}], "mark": {"type": "area", "color": "#000"},
           "encoding": {"x": {"field": "x", "type": "quantitative", "scale": {"domain": [0, 100]}, "axis": null},
             "y": {"field": "v", "type": "quantitative", "scale": {"domain": [0, 20]},
               "axis": {"values": [20], "labelExpr": "'[0-' + datum.label + ']'", "labelAngle": -90, "labelAlign": "right", "labelBaseline": "bottom", "labelOffset": 5, "labelFontSize": 5.5, "labelPadding": 1, "ticks": false, "domain": false, "grid": false, "title": "Pileup values", "titleFontSize": 6.5, "titlePadding": 1}}}},
          {"data": {"values": [{"s": "0.25 Kb"}]}, "mark": {"type": "text", "fontSize": 4, "align": "right", "baseline": "bottom"},
           "encoding": {"x": {"datum": 99.5}, "y": {"datum": 3.2}, "text": {"field": "s"}}}
        ]},
        {"width": 220, "height": 23, "layer": [
          {"data": {"name": "feat"}, "transform": [{"filter": "datum.t === 'CO' && datum.k !== 'peak'"}], "mark": {"type": "rule", "color": "#000"},
           "encoding": {"x": {"field": "s", "type": "quantitative", "scale": {"domain": [0, 100]}, "axis": null}, "x2": {"field": "e"},
             "y": {"datum": "gene", "type": "nominal", "scale": {"type": "point", "domain": ["peak", "gene", "label"], "padding": 0.68}, "axis": null},
             "size": {"field": "k", "type": "ordinal", "scale": {"domain": ["intron", "utr", "exon"], "range": [0.8, 2.6, 4.8]}, "legend": null}}},
          {"data": {"name": "feat"}, "transform": [{"filter": "datum.t === 'CO' && datum.k === 'peak'"}], "mark": {"type": "rule", "color": "#f0141a", "strokeWidth": 4.3},
           "encoding": {"x": {"field": "s", "type": "quantitative"}, "x2": {"field": "e"}, "y": {"datum": "peak", "type": "nominal"}}},
          {"data": {"name": "tss"}, "transform": [{"filter": "datum.t === 'CO'"}], "mark": {"type": "text", "text": "↲", "font": "DejaVu Sans", "fontSize": 5, "align": "right", "baseline": "top", "dx": 0.8, "dy": -1},
           "encoding": {"x": {"field": "p", "type": "quantitative"}, "y": {"datum": "gene", "type": "nominal"}}},
          {"data": {"name": "genes"}, "transform": [{"filter": "datum.t === 'CO'"}], "mark": {"type": "text", "fontSize": 9, "fontStyle": "italic", "align": "right", "baseline": "middle", "dx": -21.75, "dy": 1.5},
           "encoding": {"x": {"datum": 50}, "y": {"datum": "label", "type": "nominal"}, "text": {"field": "g"}}},
          {"data": {"name": "genes"}, "transform": [{"filter": "datum.t === 'CO'"}], "mark": {"type": "text", "fontSize": 9, "align": "left", "baseline": "middle", "dx": -19.25, "dy": 1.5},
           "encoding": {"x": {"datum": 50}, "y": {"datum": "label", "type": "nominal"}, "text": {"field": "id"}}}
        ]}
      ]},
      {"spacing": 0, "vconcat": [
        {"width": 220, "height": 39, "layer": [
          {"data": {"name": "cov"}, "transform": [{"filter": "datum.t === 'NF-YB2'"}], "mark": {"type": "area", "color": "#000"},
           "encoding": {"x": {"field": "x", "type": "quantitative", "scale": {"domain": [0, 100]}, "axis": null},
             "y": {"field": "v", "type": "quantitative", "scale": {"domain": [0, 50]},
               "axis": {"values": [50], "labelExpr": "'[0-' + datum.label + ']'", "labelAngle": -90, "labelAlign": "right", "labelBaseline": "bottom", "labelOffset": 5, "labelFontSize": 5.5, "labelPadding": 1, "ticks": false, "domain": false, "grid": false, "title": "Pileup values", "titleFontSize": 6.5, "titlePadding": 1}}}},
          {"data": {"values": [{"s": "0.25 Kb"}]}, "mark": {"type": "text", "fontSize": 4, "align": "right", "baseline": "bottom"},
           "encoding": {"x": {"datum": 99.5}, "y": {"datum": 8}, "text": {"field": "s"}}}
        ]},
        {"width": 220, "height": 23, "layer": [
          {"data": {"name": "feat"}, "transform": [{"filter": "datum.t === 'NF-YB2' && datum.k !== 'peak'"}], "mark": {"type": "rule", "color": "#000"},
           "encoding": {"x": {"field": "s", "type": "quantitative", "scale": {"domain": [0, 100]}, "axis": null}, "x2": {"field": "e"},
             "y": {"datum": "gene", "type": "nominal", "scale": {"type": "point", "domain": ["peak", "gene", "label"], "padding": 0.68}, "axis": null},
             "size": {"field": "k", "type": "ordinal", "scale": {"domain": ["intron", "utr", "exon"], "range": [0.8, 2.6, 4.8]}, "legend": null}}},
          {"data": {"name": "feat"}, "transform": [{"filter": "datum.t === 'NF-YB2' && datum.k === 'peak'"}], "mark": {"type": "rule", "color": "#f0141a", "strokeWidth": 4.3},
           "encoding": {"x": {"field": "s", "type": "quantitative"}, "x2": {"field": "e"}, "y": {"datum": "peak", "type": "nominal"}}},
          {"data": {"name": "tss"}, "transform": [{"filter": "datum.t === 'NF-YB2'"}], "mark": {"type": "text", "text": "↳", "font": "DejaVu Sans", "fontSize": 5, "align": "left", "baseline": "top", "dx": -0.8, "dy": -1},
           "encoding": {"x": {"field": "p", "type": "quantitative"}, "y": {"datum": "gene", "type": "nominal"}}},
          {"data": {"name": "genes"}, "transform": [{"filter": "datum.t === 'NF-YB2'"}], "mark": {"type": "text", "fontSize": 9, "fontStyle": "italic", "align": "right", "baseline": "middle", "dx": -12.5, "dy": 1.5},
           "encoding": {"x": {"datum": 50}, "y": {"datum": "label", "type": "nominal"}, "text": {"field": "g"}}},
          {"data": {"name": "genes"}, "transform": [{"filter": "datum.t === 'NF-YB2'"}], "mark": {"type": "text", "fontSize": 9, "align": "left", "baseline": "middle", "dx": -10, "dy": 1.5},
           "encoding": {"x": {"datum": 50}, "y": {"datum": "label", "type": "nominal"}, "text": {"field": "id"}}}
        ]}
      ]},
      {"spacing": 0, "vconcat": [
        {"width": 220, "height": 39, "layer": [
          {"data": {"name": "cov"}, "transform": [{"filter": "datum.t === 'LFY'"}], "mark": {"type": "area", "color": "#000"},
           "encoding": {"x": {"field": "x", "type": "quantitative", "scale": {"domain": [0, 100]}, "axis": null},
             "y": {"field": "v", "type": "quantitative", "scale": {"domain": [0, 40]},
               "axis": {"values": [40], "labelExpr": "'[0-' + datum.label + ']'", "labelAngle": -90, "labelAlign": "right", "labelBaseline": "bottom", "labelOffset": 5, "labelFontSize": 5.5, "labelPadding": 1, "ticks": false, "domain": false, "grid": false, "title": "Pileup values", "titleFontSize": 6.5, "titlePadding": 1}}}},
          {"data": {"values": [{"s": "0.25 Kb"}]}, "mark": {"type": "text", "fontSize": 4, "align": "right", "baseline": "bottom"},
           "encoding": {"x": {"datum": 99.5}, "y": {"datum": 6.4}, "text": {"field": "s"}}}
        ]},
        {"width": 220, "height": 23, "layer": [
          {"data": {"name": "feat"}, "transform": [{"filter": "datum.t === 'LFY' && datum.k !== 'peak'"}], "mark": {"type": "rule", "color": "#000"},
           "encoding": {"x": {"field": "s", "type": "quantitative", "scale": {"domain": [0, 100]}, "axis": null}, "x2": {"field": "e"},
             "y": {"datum": "gene", "type": "nominal", "scale": {"type": "point", "domain": ["peak", "gene", "label"], "padding": 0.68}, "axis": null},
             "size": {"field": "k", "type": "ordinal", "scale": {"domain": ["intron", "utr", "exon"], "range": [0.8, 2.6, 4.8]}, "legend": null}}},
          {"data": {"name": "feat"}, "transform": [{"filter": "datum.t === 'LFY' && datum.k === 'peak'"}], "mark": {"type": "rule", "color": "#f0141a", "strokeWidth": 4.3},
           "encoding": {"x": {"field": "s", "type": "quantitative"}, "x2": {"field": "e"}, "y": {"datum": "peak", "type": "nominal"}}},
          {"data": {"name": "tss"}, "transform": [{"filter": "datum.t === 'LFY'"}], "mark": {"type": "text", "text": "↳", "font": "DejaVu Sans", "fontSize": 5, "align": "left", "baseline": "top", "dx": -0.8, "dy": -1},
           "encoding": {"x": {"field": "p", "type": "quantitative"}, "y": {"datum": "gene", "type": "nominal"}}},
          {"data": {"name": "genes"}, "transform": [{"filter": "datum.t === 'LFY'"}], "mark": {"type": "text", "fontSize": 9, "fontStyle": "italic", "align": "right", "baseline": "middle", "dx": -20.25, "dy": 1.5},
           "encoding": {"x": {"datum": 50}, "y": {"datum": "label", "type": "nominal"}, "text": {"field": "g"}}},
          {"data": {"name": "genes"}, "transform": [{"filter": "datum.t === 'LFY'"}], "mark": {"type": "text", "fontSize": 9, "align": "left", "baseline": "middle", "dx": -17.75, "dy": 1.5},
           "encoding": {"x": {"datum": 50}, "y": {"datum": "label", "type": "nominal"}, "text": {"field": "id"}}}
        ]}
      ]},
      {"spacing": 0, "vconcat": [
        {"width": 220, "height": 39, "layer": [
          {"data": {"name": "cov"}, "transform": [{"filter": "datum.t === 'TPPH'"}], "mark": {"type": "area", "color": "#000"},
           "encoding": {"x": {"field": "x", "type": "quantitative", "scale": {"domain": [0, 100]}, "axis": null},
             "y": {"field": "v", "type": "quantitative", "scale": {"domain": [0, 30]},
               "axis": {"values": [30], "labelExpr": "'[0-' + datum.label + ']'", "labelAngle": -90, "labelAlign": "right", "labelBaseline": "bottom", "labelOffset": 5, "labelFontSize": 5.5, "labelPadding": 1, "ticks": false, "domain": false, "grid": false, "title": "Pileup values", "titleFontSize": 6.5, "titlePadding": 1}}}},
          {"data": {"values": [{"s": "0.25 Kb"}]}, "mark": {"type": "text", "fontSize": 4, "align": "right", "baseline": "bottom"},
           "encoding": {"x": {"datum": 99.5}, "y": {"datum": 4.8}, "text": {"field": "s"}}}
        ]},
        {"width": 220, "height": 23, "layer": [
          {"data": {"name": "feat"}, "transform": [{"filter": "datum.t === 'TPPH' && datum.k !== 'peak'"}], "mark": {"type": "rule", "color": "#000"},
           "encoding": {"x": {"field": "s", "type": "quantitative", "scale": {"domain": [0, 100]}, "axis": null}, "x2": {"field": "e"},
             "y": {"datum": "gene", "type": "nominal", "scale": {"type": "point", "domain": ["peak", "gene", "label"], "padding": 0.68}, "axis": null},
             "size": {"field": "k", "type": "ordinal", "scale": {"domain": ["intron", "utr", "exon"], "range": [0.8, 2.6, 4.8]}, "legend": null}}},
          {"data": {"name": "feat"}, "transform": [{"filter": "datum.t === 'TPPH' && datum.k === 'peak'"}], "mark": {"type": "rule", "color": "#f0141a", "strokeWidth": 4.3},
           "encoding": {"x": {"field": "s", "type": "quantitative"}, "x2": {"field": "e"}, "y": {"datum": "peak", "type": "nominal"}}},
          {"data": {"name": "tss"}, "transform": [{"filter": "datum.t === 'TPPH'"}], "mark": {"type": "text", "text": "↲", "font": "DejaVu Sans", "fontSize": 5, "align": "right", "baseline": "top", "dx": 0.8, "dy": -1},
           "encoding": {"x": {"field": "p", "type": "quantitative"}, "y": {"datum": "gene", "type": "nominal"}}},
          {"data": {"name": "genes"}, "transform": [{"filter": "datum.t === 'TPPH'"}], "mark": {"type": "text", "fontSize": 9, "fontStyle": "italic", "align": "right", "baseline": "middle", "dx": -16.5, "dy": 1.5},
           "encoding": {"x": {"datum": 50}, "y": {"datum": "label", "type": "nominal"}, "text": {"field": "g"}}},
          {"data": {"name": "genes"}, "transform": [{"filter": "datum.t === 'TPPH'"}], "mark": {"type": "text", "fontSize": 9, "align": "left", "baseline": "middle", "dx": -14, "dy": 1.5},
           "encoding": {"x": {"datum": 50}, "y": {"datum": "label", "type": "nominal"}, "text": {"field": "id"}}}
        ]}
      ]},
      {"spacing": 0, "vconcat": [
        {"width": 220, "height": 39, "layer": [
          {"data": {"name": "cov"}, "transform": [{"filter": "datum.t === 'PIF5'"}], "mark": {"type": "area", "color": "#000"},
           "encoding": {"x": {"field": "x", "type": "quantitative", "scale": {"domain": [0, 100]}, "axis": null},
             "y": {"field": "v", "type": "quantitative", "scale": {"domain": [0, 30]},
               "axis": {"values": [30], "labelExpr": "'[0-' + datum.label + ']'", "labelAngle": -90, "labelAlign": "right", "labelBaseline": "bottom", "labelOffset": 5, "labelFontSize": 5.5, "labelPadding": 1, "ticks": false, "domain": false, "grid": false, "title": "Pileup values", "titleFontSize": 6.5, "titlePadding": 1}}}},
          {"data": {"values": [{"s": "0.25 Kb"}]}, "mark": {"type": "text", "fontSize": 4, "align": "right", "baseline": "bottom"},
           "encoding": {"x": {"datum": 99.5}, "y": {"datum": 4.8}, "text": {"field": "s"}}}
        ]},
        {"width": 220, "height": 23, "layer": [
          {"data": {"name": "feat"}, "transform": [{"filter": "datum.t === 'PIF5' && datum.k !== 'peak'"}], "mark": {"type": "rule", "color": "#000"},
           "encoding": {"x": {"field": "s", "type": "quantitative", "scale": {"domain": [0, 100]}, "axis": null}, "x2": {"field": "e"},
             "y": {"datum": "gene", "type": "nominal", "scale": {"type": "point", "domain": ["peak", "gene", "label"], "padding": 0.68}, "axis": null},
             "size": {"field": "k", "type": "ordinal", "scale": {"domain": ["intron", "utr", "exon"], "range": [0.8, 2.6, 4.8]}, "legend": null}}},
          {"data": {"name": "feat"}, "transform": [{"filter": "datum.t === 'PIF5' && datum.k === 'peak'"}], "mark": {"type": "rule", "color": "#f0141a", "strokeWidth": 4.3},
           "encoding": {"x": {"field": "s", "type": "quantitative"}, "x2": {"field": "e"}, "y": {"datum": "peak", "type": "nominal"}}},
          {"data": {"name": "tss"}, "transform": [{"filter": "datum.t === 'PIF5'"}], "mark": {"type": "text", "text": "↲", "font": "DejaVu Sans", "fontSize": 5, "align": "right", "baseline": "top", "dx": 0.8, "dy": -1},
           "encoding": {"x": {"field": "p", "type": "quantitative"}, "y": {"datum": "gene", "type": "nominal"}}},
          {"data": {"name": "genes"}, "transform": [{"filter": "datum.t === 'PIF5'"}], "mark": {"type": "text", "fontSize": 9, "fontStyle": "italic", "align": "right", "baseline": "middle", "dx": -19, "dy": 1.5},
           "encoding": {"x": {"datum": 50}, "y": {"datum": "label", "type": "nominal"}, "text": {"field": "g"}}},
          {"data": {"name": "genes"}, "transform": [{"filter": "datum.t === 'PIF5'"}], "mark": {"type": "text", "fontSize": 9, "align": "left", "baseline": "middle", "dx": -16.5, "dy": 1.5},
           "encoding": {"x": {"datum": 50}, "y": {"datum": "label", "type": "nominal"}, "text": {"field": "id"}}}
        ]}
      ]}
    ]
  }
],
"spacing": 24
}
